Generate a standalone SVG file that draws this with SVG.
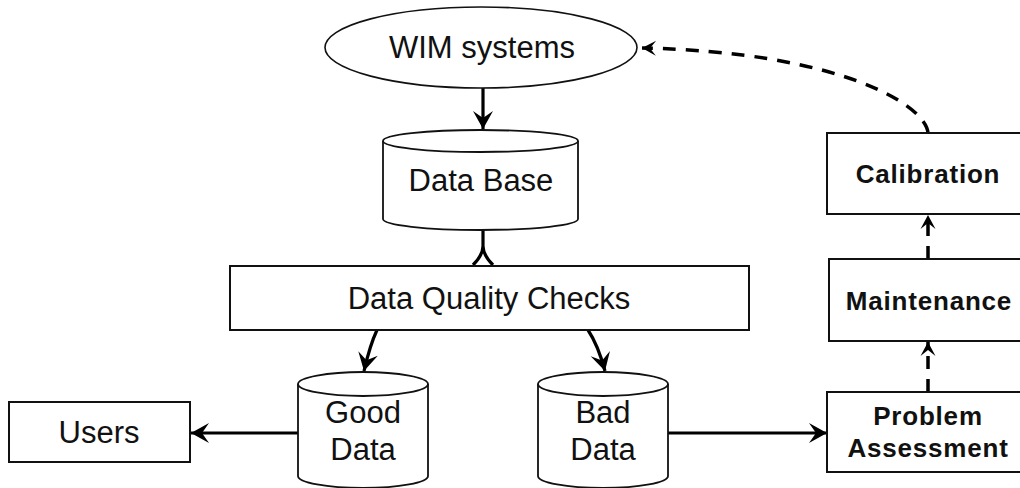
<svg xmlns="http://www.w3.org/2000/svg" width="1020" height="488" viewBox="0 0 1020 488">
<style>
.shape{fill:#fff;stroke:#111;stroke-width:2}
.cyl{fill:#fff;stroke:#111;stroke-width:1.8}
.t{font-family:"Liberation Sans",Arial,sans-serif;font-size:31px;fill:#111;text-anchor:middle}
.b{font-family:"Liberation Sans",Arial,sans-serif;font-size:26px;font-weight:bold;letter-spacing:0.8px;fill:#111;text-anchor:middle}
.c{fill:none;stroke:#000;stroke-width:3.2}
.d{fill:none;stroke:#000;stroke-width:3.5;stroke-dasharray:13 10}
</style>
<defs>
<marker id="ah" markerUnits="userSpaceOnUse" markerWidth="22" markerHeight="22" viewBox="-20 -11 22 22" refX="0" refY="0" orient="auto">
<path d="M0,0 L-18,-10 L-11,0 L-18,10 z" fill="#000"/>
</marker>
<marker id="ahs" markerUnits="userSpaceOnUse" markerWidth="18" markerHeight="18" viewBox="-16 -9 18 18" refX="0" refY="0" orient="auto">
<path d="M0,0 L-14,-7.5 L-8,0 L-14,7.5 z" fill="#000"/>
</marker>
</defs>
<g id="connectors">
<path class="c" d="M483,88 L483,129" marker-end="url(#ah)"/>
<path class="c" d="M483,230 L483,246 Q483,255 473,265 M483,246 Q483,255 493,265"/>
<path class="c" d="M377,330 Q370,345 364,371" marker-end="url(#ah)"/>
<path class="c" d="M588,330 Q598,345 605,371" marker-end="url(#ah)"/>
<path class="c" d="M298,433 L191,433" marker-end="url(#ah)"/>
<path class="c" d="M668,433 L827,433" marker-end="url(#ah)"/>
<path class="d" d="M928,392 L928,342" marker-end="url(#ahs)"/>
<path class="d" d="M928,259 L928,215" marker-end="url(#ahs)"/>
<path class="d" d="M928,133 C926,105 840,52 642,48" marker-end="url(#ahs)"/>
</g>
<g id="wim">
<ellipse class="shape" cx="481" cy="47.5" rx="156" ry="40.5" style="stroke-width:1.6"/>
<text class="t" x="482" y="58">WIM systems</text>
</g>
<g id="database">
<path class="cyl" d="M383,141 L383,219 A97.5,11 0 0 0 578,219 L578,141"/>
<ellipse class="cyl" cx="480.5" cy="141" rx="97.5" ry="11"/>
<text class="t" x="481" y="191">Data Base</text>
</g>
<g id="dqc">
<rect class="shape" x="230" y="266" width="519" height="64"/>
<text class="t" x="489" y="309">Data Quality Checks</text>
</g>
<g id="gooddata">
<path class="cyl" d="M298,384 L298,476 A65,12 0 0 0 428,476 L428,384"/>
<ellipse class="cyl" cx="363" cy="384" rx="65" ry="12"/>
<text class="t" x="363" y="423">Good</text>
<text class="t" x="363" y="460">Data</text>
</g>
<g id="baddata">
<path class="cyl" d="M538,384 L538,476 A65,12 0 0 0 668,476 L668,384"/>
<ellipse class="cyl" cx="603" cy="384" rx="65" ry="12"/>
<text class="t" x="603" y="423">Bad</text>
<text class="t" x="603" y="460">Data</text>
</g>
<g id="users">
<rect class="shape" x="9" y="402" width="181" height="60"/>
<text class="t" x="99" y="443">Users</text>
</g>
<g id="calibration">
<rect class="shape" x="827" y="133" width="202" height="81"/>
<text class="b" x="928" y="183">Calibration</text>
</g>
<g id="maintenance">
<rect class="shape" x="829" y="259" width="200" height="82"/>
<text class="b" x="929" y="310">Maintenance</text>
</g>
<g id="problem">
<rect class="shape" x="827" y="392" width="202" height="80"/>
<text class="b" x="928" y="425">Problem</text>
<text class="b" x="928" y="457">Assessment</text>
</g>
</svg>
